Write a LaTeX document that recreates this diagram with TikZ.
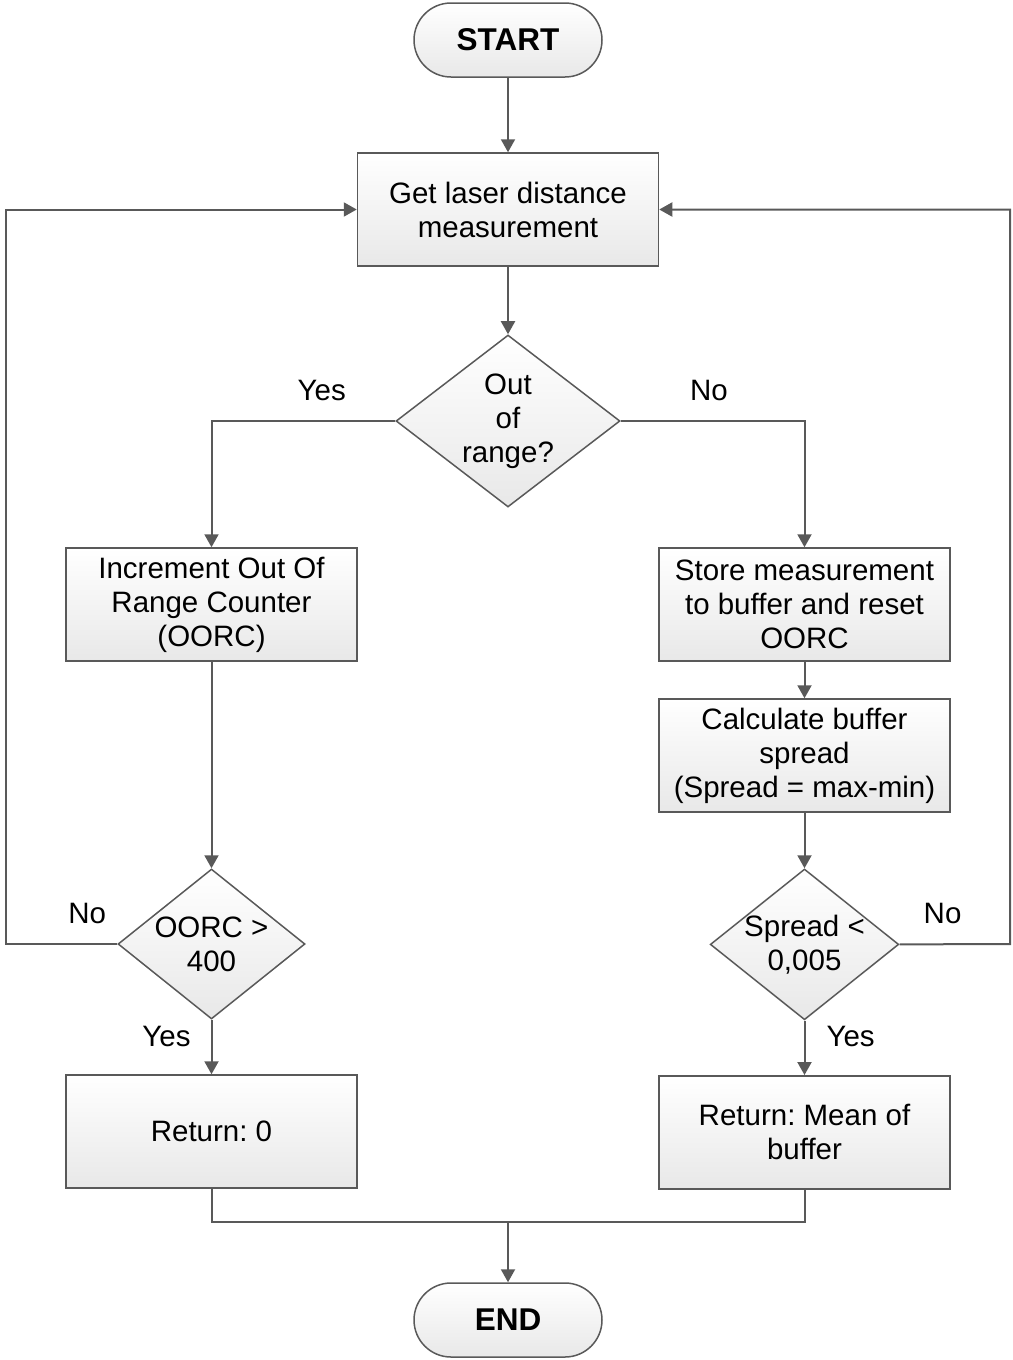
\documentclass[tikz,border=0pt]{standalone}
\usepackage{fontspec}
\setmainfont{Liberation Sans}
\usepackage{tikz}
\usetikzlibrary{arrows.meta,positioning,shapes.geometric}

\definecolor{lineGray}{RGB}{89,89,89}
\frenchspacing

\begin{document}
\begin{tikzpicture}
      [x=1pt, y=-1pt, line width=2pt, draw=lineGray,
      >={Triangle[length=13pt, width=14pt]},
      every node/.style={font=\fontsize{29.5}{34}\selectfont},
      shaded/.style={draw=lineGray, line width=1.5pt, top color=white, bottom color=black!9},
      terminal/.style={shaded, rectangle, rounded corners=37pt, minimum width=188pt,
        minimum height=74pt, font=\fontsize{31.5}{34}\selectfont\bfseries},
      process/.style={shaded, rectangle, align=center, minimum width=291pt, minimum height=113pt},
      decision/.style={shaded, diamond, align=center, inner sep=0pt},
      answer/.style={inner sep=0pt}]

      \useasboundingbox (0,0) rectangle (1012,1360);

      \node [terminal] (start) at (508,40) {START};
      \node [process, minimum width=301pt, below=74.5pt of start] (get) {Get laser distance\\measurement};
      \node [decision, below=67.5pt of get, aspect=1.3, minimum width=224pt, minimum height=172pt] (range) {Out\\of\\range?};

      % left branch
      \node [process, below=39.5pt of range, xshift=-296.5pt] (incr) {Increment Out Of\\Range Counter\\(OORC)};
      \node [decision, below=206.5pt of incr, aspect=1.25, minimum width=187pt, minimum height=150pt] (limit) {OORC >\\400};
      \node [process, below=54.5pt of limit] (zero) {Return: 0};

      % right branch
      \node [process, below=39.5pt of range, xshift=296.5pt] (store) {Store measurement\\to buffer and reset\\OORC};
      \node [process, below=36.5pt of store] (spread) {Calculate buffer\\spread\\(Spread = max-min)};
      \node [decision, below=55.5pt of spread, aspect=1.25, inner xsep=-3pt, minimum width=187pt, minimum height=150pt] (stable) {Spread <\\0,005};
      \node [process, below=54.5pt of stable] (mean) {Return: Mean of\\buffer};

      \node [terminal] (end) at (508,1320) {END};

      \coordinate (lloop) at (6,944);
      \coordinate (rloop) at (1010,944);
      \coordinate (merge) at (508,1222);

      \draw [->] (start) -- (get);
      \draw [->] (get) -- (range);
      \draw [->] (range.west) -| node [answer, above=19pt, pos=0.2] {Yes} (incr);
      \draw [->] (range.east) -| node [answer, above=19pt, pos=0.24] {No} (store);
      \draw [->] (incr) -- (limit);
      \draw [->] (store) -- (spread);
      \draw [->] (spread) -- (stable);
      \draw [->] (limit) -- node [answer, left=20pt, pos=0.3] {Yes} (zero);
      \draw [->] (stable) -- node [answer, right=21pt, pos=0.3] {Yes} (mean);
      \draw [->] (limit.west) -- node [answer, above=19pt, pos=0.27] {No} (lloop) |- (get.west);
      \draw [->] (stable.east) -- node [answer, above=19pt, pos=0.39] {No} (rloop) |- (get.east);
      \draw (zero) |- (merge);
      \draw (mean) |- (merge);
      \draw [->] (merge) -- (end);
    \end{tikzpicture}
\end{document}
